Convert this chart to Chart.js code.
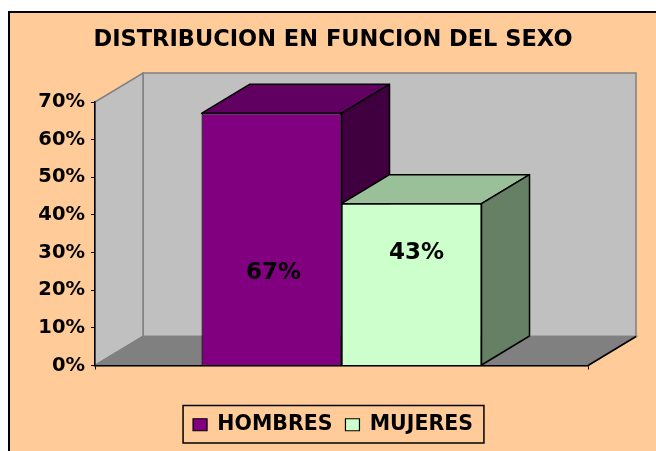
<!DOCTYPE html>
<html>
<head>
<meta charset="utf-8">
<script src="https://cdn.jsdelivr.net/npm/chart.js@4/dist/chart.umd.min.js"></script>
<style>
  html, body { margin: 0; padding: 0; background: #fff; }
  #wrap { width: 656px; height: 451px; }
</style>
</head>
<body>
<div id="wrap"><canvas id="c" width="656" height="451"></canvas></div>
<script>
// ---- data ----
const chartTitle = 'DISTRIBUCION EN FUNCION DEL SEXO';
const categories = [''];
const seriesNames = ['HOMBRES', 'MUJERES'];
const hombres = [67];
const mujeres = [43];
const yTickValues = [0, 10, 20, 30, 40, 50, 60, 70];

// ---- style ----
const FONT = 'DejaVu Sans';
const depth = { dx: 48, dy: -29 };
const frontColors = ['#800080', '#CCFFCC'];
const topColors = ['#600060', '#99C099'];
const sideColors = ['#400040', '#668066'];
const labelOffsets = [{ x: 2, y: 34 }, { x: 5, y: -31 }];

function poly(ctx, pts) {
  ctx.beginPath();
  ctx.moveTo(pts[0][0], pts[0][1]);
  for (let i = 1; i < pts.length; i++) ctx.lineTo(pts[i][0], pts[i][1]);
  ctx.closePath();
}

const scenePlugin = {
  id: 'scene3d',
  beforeDraw(chart) {
    const { ctx, width, height } = chart;
    const xs = chart.scales.x, ys = chart.scales.y;
    const L = xs.left, R = xs.right;
    const T = ys.getPixelForValue(ys.max), B = ys.getPixelForValue(ys.min);
    const { dx, dy } = depth;
    ctx.save();
    ctx.fillStyle = '#fff';
    ctx.fillRect(0, 0, width, height);
    ctx.fillStyle = '#FFCC99';
    ctx.fillRect(9, 12, width, height);
    ctx.strokeStyle = '#000';
    ctx.lineWidth = 2;
    ctx.strokeRect(9, 12, width + 20, height + 20);
    // back wall
    ctx.fillStyle = '#C0C0C0';
    ctx.strokeStyle = '#808080';
    ctx.lineWidth = 1.5;
    poly(ctx, [[L + dx, T + dy], [R + dx, T + dy], [R + dx, B + dy], [L + dx, B + dy]]);
    ctx.fill(); ctx.stroke();
    // left side wall
    poly(ctx, [[L, B], [L, T], [L + dx, T + dy], [L + dx, B + dy]]);
    ctx.fill(); ctx.stroke();
    // floor
    ctx.fillStyle = '#808080';
    poly(ctx, [[L, B], [L + dx, B + dy], [R + dx, B + dy], [R, B]]);
    ctx.fill(); ctx.stroke();
    ctx.strokeStyle = '#000';
    ctx.beginPath();
    ctx.moveTo(R, B); ctx.lineTo(R + dx, B + dy);
    ctx.stroke();
    ctx.restore();
  },
  beforeDatasetsDraw(chart) {
    const { ctx } = chart;
    const { dx, dy } = depth;
    ctx.save();
    ctx.strokeStyle = '#000';
    ctx.lineWidth = 1.5;
    ctx.lineJoin = 'round';
    chart.data.datasets.forEach((ds, i) => {
      const meta = chart.getDatasetMeta(i);
      meta.data.forEach(bar => {
        const { x, y, base, width } = bar.getProps(['x', 'y', 'base', 'width'], true);
        const l = x - width / 2, r = x + width / 2;
        ctx.fillStyle = topColors[i];
        poly(ctx, [[l, y], [l + dx, y + dy], [r + dx, y + dy], [r, y]]);
        ctx.fill(); ctx.stroke();
        ctx.fillStyle = sideColors[i];
        poly(ctx, [[r, y], [r + dx, y + dy], [r + dx, base + dy], [r, base]]);
        ctx.fill(); ctx.stroke();
      });
    });
    ctx.restore();
  },
  afterDatasetsDraw(chart) {
    const { ctx } = chart;
    ctx.save();
    ctx.fillStyle = '#000';
    ctx.font = 'bold 23px "' + FONT + '"';
    ctx.textAlign = 'center';
    ctx.textBaseline = 'middle';
    chart.data.datasets.forEach((ds, i) => {
      const meta = chart.getDatasetMeta(i);
      meta.data.forEach((bar, j) => {
        const { x, y, base } = bar.getProps(['x', 'y', 'base'], true);
        ctx.fillText(ds.data[j] + '%', x + labelOffsets[i].x, (y + base) / 2 + labelOffsets[i].y);
      });
    });
    ctx.restore();
  },
  afterDraw(chart) {
    const lg = chart.legend;
    if (!lg || !lg.legendHitBoxes || !lg.legendHitBoxes.length) return;
    const hb = lg.legendHitBoxes;
    let minL = Infinity, maxR = -Infinity, minT = Infinity, maxB = -Infinity;
    hb.forEach(h => {
      minL = Math.min(minL, h.left); maxR = Math.max(maxR, h.left + h.width);
      minT = Math.min(minT, h.top); maxB = Math.max(maxB, h.top + h.height);
    });
    const { ctx } = chart;
    ctx.save();
    ctx.strokeStyle = '#000';
    ctx.lineWidth = 1.5;
    ctx.strokeRect(minL - 10, minT - 9, (maxR - minL) + 21, (maxB - minT) + 17);
    ctx.restore();
  }
};

new Chart(document.getElementById('c'), {
  type: 'bar',
  data: {
    labels: categories,
    datasets: [
      { label: seriesNames[0], data: hombres, backgroundColor: frontColors[0], borderColor: '#000', borderWidth: 1.2 },
      { label: seriesNames[1], data: mujeres, backgroundColor: frontColors[1], borderColor: '#000', borderWidth: 1.2 }
    ]
  },
  options: {
    responsive: false,
    devicePixelRatio: 1,
    animation: false,
    layout: { padding: { left: 10, right: 0, top: 0, bottom: 6 } },
    datasets: { bar: { categoryPercentage: 0.568, barPercentage: 1.0 } },
    scales: {
      x: {
        offset: true,
        grid: { display: true, drawOnChartArea: false, drawTicks: true, tickLength: 4, color: '#000', offset: true },
        border: { display: true, color: '#000', width: 1.5 },
        ticks: { display: false },
        afterFit: s => { s.height = 36; }
      },
      y: {
        min: 0, max: 70,
        afterBuildTicks: s => { s.ticks = yTickValues.map(v => ({ value: v })); },
        grid: { display: true, drawOnChartArea: false, drawTicks: true, tickLength: 4, color: '#000' },
        border: { display: true, color: '#000', width: 1.5 },
        ticks: {
          padding: 6, color: '#000',
          font: { family: FONT, size: 19.5, weight: 'bold' },
          callback: v => v + '%'
        },
        afterFit: s => { s.width = 85; }
      },
      yRight: {
        position: 'right', display: true,
        grid: { display: false }, border: { display: false }, ticks: { display: false },
        afterFit: s => { s.width = 68; }
      }
    },
    plugins: {
      title: {
        display: true, text: chartTitle, color: '#000',
        font: { family: FONT, size: 22.5, weight: 'bold' },
        padding: { top: 27, bottom: 48 }
      },
      legend: {
        display: true, position: 'bottom',
        labels: {
          color: '#000', boxWidth: 14, boxHeight: 12, padding: 13,
          font: { family: FONT, size: 20.5, weight: 'bold' }
        }
      },
      tooltip: { enabled: false }
    }
  },
  plugins: [scenePlugin]
});
</script>
</body>
</html>
